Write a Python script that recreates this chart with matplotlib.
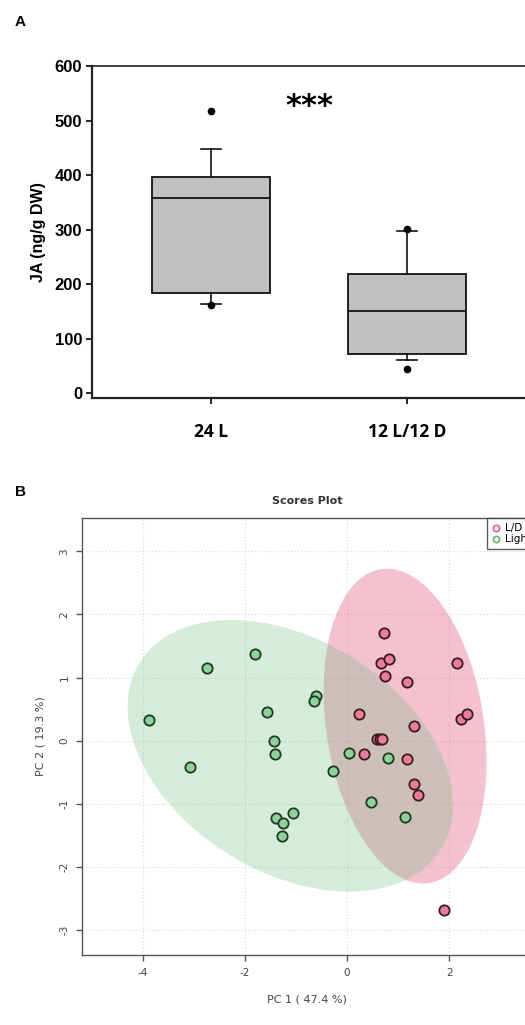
import numpy as np
import matplotlib
matplotlib.use("Agg")
import matplotlib.pyplot as plt
from matplotlib.patches import Ellipse
from matplotlib.lines import Line2D

# ----------------------------------------------------------------------
# DATA
# ----------------------------------------------------------------------

# Panel A : JA content box plot
groups = ["24 L", "12 L/12 D"]
q1 = [183, 72]
median = [357, 151]
q3 = [397, 219]
whisker_low = [163, 60]
whisker_high = [447, 298]
outliers = [[517, 162], [301, 45]]
yticks_a = [0, 100, 200, 300, 400, 500, 600]

# Panel B : PCA scores
pc1_ld = [0.73, 0.66, 0.82, 0.74, 1.17, 2.16, 2.23, 2.34, 0.24, 1.31,
          0.59, 0.64, 0.69, 0.34, 1.17, 1.31, 1.38, 1.90]
pc2_ld = [1.70, 1.23, 1.30, 1.02, 0.93, 1.23, 0.35, 0.42, 0.42, 0.23,
          0.02, 0.02, 0.02, -0.21, -0.29, -0.69, -0.87, -2.69]
pc1_light = [-3.87, -2.75, -1.80, -3.07, -0.60, -0.64, -1.57, -1.44, -1.42,
             -0.28, 0.03, 0.80, 0.46, 1.13, -1.06, -1.40, -1.26, -1.28]
pc2_light = [0.32, 1.15, 1.37, -0.42, 0.71, 0.63, 0.45, 0.00, -0.21,
             -0.49, -0.19, -0.28, -0.98, -1.21, -1.15, -1.23, -1.30, -1.51]
xticks_b = [-4, -2, 0, 2]
yticks_b = [-3, -2, -1, 0, 1, 2, 3]


def conf_ellipse(x, y, color, alpha, ax, level_t=2.4477):
    """95 % confidence ellipse from the covariance of the points."""
    x = np.asarray(x)
    y = np.asarray(y)
    cov = np.cov(x, y)
    vals, vecs = np.linalg.eigh(cov)
    order = vals.argsort()[::-1]
    vals, vecs = vals[order], vecs[:, order]
    angle = np.degrees(np.arctan2(vecs[1, 0], vecs[0, 0]))
    w, h = 2 * level_t * np.sqrt(vals)
    e = Ellipse((x.mean(), y.mean()), w, h, angle=angle,
                facecolor=color, alpha=alpha, edgecolor="none", zorder=1)
    ax.add_patch(e)


fig = plt.figure(figsize=(5.25, 10.25), dpi=100)

# ----------------------------------------------------------------------
# PANEL A
# ----------------------------------------------------------------------
axa = fig.add_axes([92 / 525, 1 - 398 / 1025, 436 / 525, (398 - 66) / 1025])

stats = []
for i in range(len(groups)):
    stats.append({"q1": q1[i], "med": median[i], "q3": q3[i],
                  "whislo": whisker_low[i], "whishi": whisker_high[i],
                  "fliers": outliers[i], "label": groups[i]})

axa.bxp(stats, positions=[1, 2], widths=0.6, patch_artist=True,
        capwidths=0.1,
        boxprops=dict(facecolor="#c0c0c0", edgecolor="#111111", linewidth=1.3),
        medianprops=dict(color="#111111", linewidth=1.3),
        whiskerprops=dict(color="#111111", linewidth=1.2),
        capprops=dict(color="#111111", linewidth=1.2),
        flierprops=dict(marker="o", markerfacecolor="black",
                        markeredgecolor="black", markersize=4.5))

axa.set_xlim(0.393, 2.618)
axa.set_ylim(-9, 600)
axa.set_yticks(yticks_a)
axa.set_yticklabels([str(v) for v in yticks_a], fontsize=12,
                    fontweight="bold", family="Liberation Sans")
axa.set_xticks([1, 2])
axa.set_xticklabels(groups, fontsize=12.5, fontweight="bold", family="Open Sans")
axa.tick_params(axis="y", direction="out", length=4, width=1.2, pad=3)
axa.tick_params(axis="x", direction="out", length=4, width=1.2, pad=14)
for side in ["left", "bottom"]:
    axa.spines[side].set_linewidth(1.6)
    axa.spines[side].set_color("#222222")
for side in ["top", "right"]:
    axa.spines[side].set_linewidth(1.2)
    axa.spines[side].set_color("#222222")
axa.set_ylabel("JA (ng/g DW)", fontsize=11.5, fontweight="bold",
               family="Liberation Sans", labelpad=6)
axa.text(1.5, 525, "***", ha="center", va="center", fontsize=22,
         fontweight="bold")
fig.text(20 / 525, 1 - 22 / 1025, "A", ha="center", va="center",
         fontsize=11, fontweight="bold", family="Liberation Sans")

# ----------------------------------------------------------------------
# PANEL B
# ----------------------------------------------------------------------
axb = fig.add_axes([82 / 525, 1 - 955 / 1025, 449 / 525, (955 - 518) / 1025])

conf_ellipse(pc1_ld, pc2_ld, (221 / 255, 55 / 255, 98 / 255), 0.3, axb)
conf_ellipse(pc1_light, pc2_light, (105 / 255, 190 / 255, 126 / 255), 0.28, axb)

axb.scatter(pc1_light, pc2_light, s=55, facecolor="#8fd19a",
            edgecolor="#1c3a1f", linewidth=1.3, zorder=3)
axb.scatter(pc1_ld, pc2_ld, s=55, facecolor="#ec7c9a",
            edgecolor="#3a1a22", linewidth=1.3, zorder=3)

axb.set_xlim(-5.19, 3.6)
axb.set_ylim(-3.4, 3.53)
axb.set_xticks(xticks_b)
axb.set_xticklabels([str(v) for v in xticks_b], fontsize=7.5, color="#444444")
axb.set_yticks(yticks_b)
axb.set_yticklabels([str(v) for v in yticks_b], fontsize=7.5, color="#444444",
                    rotation=90, va="center")
axb.tick_params(axis="both", direction="out", length=4, width=1.0,
                color="#555555", pad=5)
axb.grid(True, color="#dddddd", linestyle=":", linewidth=0.9, zorder=0)
axb.set_axisbelow(True)
for side in axb.spines:
    axb.spines[side].set_color("#555555")
    axb.spines[side].set_linewidth(1.0)

axb.set_xlabel("PC 1 ( 47.4 %)", fontsize=8, color="#444444", labelpad=12)
axb.set_ylabel("PC 2 ( 19.3 %)", fontsize=8, color="#444444", labelpad=10)
fig.text(307 / 525, 1 - 501 / 1025, "Scores Plot", ha="center", va="center",
         fontsize=8, fontweight="bold", color="#333333")
fig.text(21 / 525, 1 - 492 / 1025, "B", ha="center", va="center",
         fontsize=11, fontweight="bold", family="Liberation Sans")

# legend runs off the right edge, as in the original figure
handles = [Line2D([], [], marker="o", linestyle="none", markerfacecolor="none",
                  markeredgecolor="#e0607e", markersize=4.5, markeredgewidth=1.2),
           Line2D([], [], marker="o", linestyle="none", markerfacecolor="none",
                  markeredgecolor="#5cb86a", markersize=4.5, markeredgewidth=1.2)]
leg = fig.legend(handles, ["L/D", "Light"], loc="upper left",
                 bbox_to_anchor=(487 / 525, 1 - 518 / 1025), fontsize=7.5,
                 frameon=True, fancybox=False, handlelength=0.8,
                 handletextpad=0.4, borderpad=0.5, labelspacing=0.1,
                 borderaxespad=0)
leg.get_frame().set_edgecolor("#333333")
leg.get_frame().set_linewidth(1.0)

fig.savefig("out.png", dpi=100)
